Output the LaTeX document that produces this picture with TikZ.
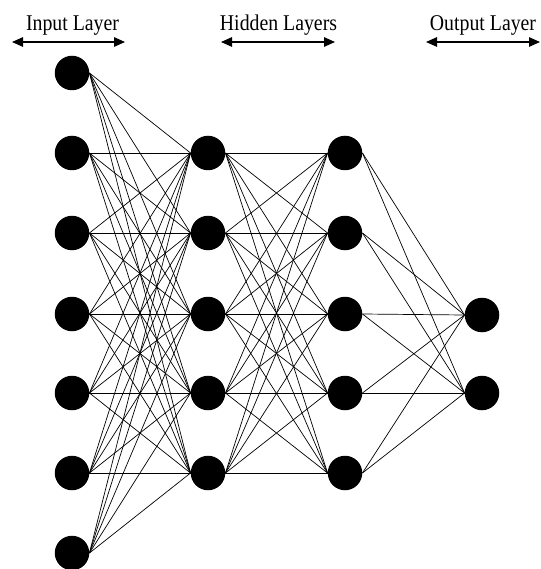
\documentclass[tikz,border=0pt]{standalone}
\usepackage{fontspec}
\setmainfont{Liberation Serif}
\usetikzlibrary{arrows.meta}
\begin{document}
\begin{tikzpicture}[x=1pt,y=-1pt,
  neuron/.style={circle,fill=black,inner sep=0pt,minimum size=34.5pt},
  conn/.style={draw=black,line width=0.7pt},
  layerlabel/.style={anchor=base,inner sep=0pt,font=\fontsize{22.5}{24}\selectfont},
  span/.style={{Triangle[length=11pt,width=9.5pt]}-{Triangle[length=11pt,width=9.5pt]},line width=1.3pt}]
\useasboundingbox (0,0) rectangle (540,569);
% input layer
\foreach \i/\y in {1/73,2/153,3/233,4/314,5/393,6/473,7/553}
  \node[neuron] (i\i) at (72,\y) {};
% hidden layer 1
\foreach \i/\y in {1/153,2/233,3/314,4/393,5/473}
  \node[neuron] (a\i) at (208,\y) {};
% hidden layer 2
\foreach \i/\y in {1/153,2/233,3/314,4/393,5/473}
  \node[neuron] (b\i) at (345,\y) {};
% output layer
\foreach \i/\y in {1/315,2/393}
  \node[neuron] (o\i) at (482,\y) {};
% connections
\foreach \i in {1,...,7}
  \foreach \j in {1,...,5}
    \draw[conn] (i\i.east) -- (a\j.west);
\foreach \i in {1,...,5}
  \foreach \j in {1,...,5}
    \draw[conn] (a\i.east) -- (b\j.west);
\foreach \i in {1,...,5}
  \foreach \j in {1,2}
    \draw[conn] (b\i.east) -- (o\j.west);
% labels
\node[layerlabel] (tin) at (72.5,31) {\scalebox{0.88}[1]{Input Layer}};
\node[layerlabel] (thid) at (278.5,31) {\scalebox{0.88}[1]{Hidden Layers}};
\node[layerlabel] (tout) at (483,31) {\scalebox{0.88}[1]{Output Layer}};
\coordinate (inl) at (12,42);
\coordinate (inr) at (125,42);
\coordinate (hl) at (221,42);
\coordinate (hr) at (335,42);
\coordinate (ol) at (426,42);
\coordinate (or) at (540,42);
\draw[span] (inl) -- (inr);
\draw[span] (hl) -- (hr);
\draw[span] (ol) -- (or);
\end{tikzpicture}
\end{document}
